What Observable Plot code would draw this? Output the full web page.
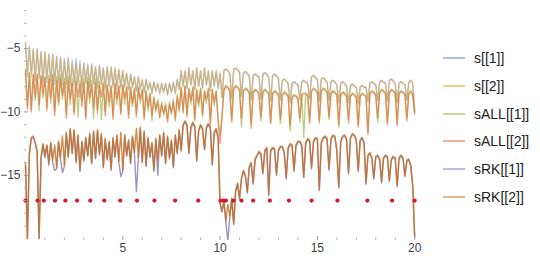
<!DOCTYPE html>
<html><head><meta charset="utf-8">
<script src="https://cdn.jsdelivr.net/npm/d3@7"></script>
<script src="https://cdn.jsdelivr.net/npm/@observablehq/plot@0.6"></script>
<style>
body{margin:0;background:#fff;font-family:"Liberation Sans",Arial,sans-serif;}
#wrap{position:relative;width:540px;height:260px;overflow:hidden;}
#plot{position:absolute;left:0;top:0;}
#legend{position:absolute;left:443px;top:0;width:97px;height:260px;}
.item{position:absolute;left:0;display:flex;align-items:center;white-space:nowrap;font-size:14px;color:#222;transform:translateY(-50%);}
.sw{width:22px;height:0;border-top:2px solid;margin-right:9px;}
</style></head><body>
<div id="wrap"><div id="plot"></div><div id="legend"></div></div>
<script>
// sampling step along x
const xStep = 0.1;

const s1 = [
-4.5,-7.2,-4.8,-7.0,-5.1,-7.5,-5.0,-7.4,-5.2,-7.6,
-5.3,-7.7,-5.4,-7.6,-5.5,-7.8,-5.6,-7.7,-5.7,-7.9,
-5.8,-7.8,-5.7,-8.0,-5.9,-7.7,-5.8,-7.9,-6.0,-8.0,
-6.1,-7.7,-6.2,-8.0,-6.2,-7.8,-6.4,-8.1,-6.3,-7.8,
-6.5,-8.1,-6.4,-8.0,-6.5,-7.9,-6.6,-8.2,-6.7,-8.0,
-6.8,-8.1,-7.0,-8.2,-7.0,-8.1,-7.3,-8.3,-7.2,-8.2,
-7.5,-8.4,-7.4,-8.3,-7.7,-8.5,-7.6,-8.4,-7.8,-8.5,
-7.7,-8.5,-7.8,-8.6,-7.7,-8.5,-7.7,-8.5,-7.4,-8.2,
-6.7,-8.0,-6.8,-8.1,-6.5,-7.9,-6.8,-8.2,-6.5,-8.0,
-6.8,-8.1,-6.5,-7.9,-6.8,-8.3,-6.7,-8.0,-6.8,-8.1,
-7.0,-8.9,-6.7,-6.6,-6.8,-7.0,-8.9,-6.6,-6.6,-6.7,
-6.9,-8.8,-6.9,-6.8,-7.0,-7.2,-9.0,-7.1,-7.0,-7.2,
-7.2,-9.0,-7.0,-6.9,-7.1,-7.3,-9.1,-7.1,-7.0,-7.2,
-7.4,-9.1,-7.5,-7.4,-7.6,-7.8,-9.2,-7.7,-7.6,-7.8,
-7.8,-9.0,-7.6,-7.5,-7.7,-7.7,-9.0,-7.2,-7.1,-7.3,
-7.5,-9.1,-7.4,-7.3,-7.5,-7.7,-9.1,-7.6,-7.5,-7.7,
-7.9,-9.2,-7.7,-7.6,-7.8,-8.0,-9.3,-7.9,-7.8,-8.0,
-8.0,-9.3,-8.0,-7.9,-8.1,-8.0,-9.2,-7.7,-7.6,-7.8,
-7.8,-9.1,-7.6,-7.5,-7.7,-7.7,-9.1,-7.5,-7.4,-7.6,
-7.8,-9.2,-7.7,-7.6,-7.8,-7.8,-9.1,-7.6,-7.5,-7.8,
-9.9];

const s2 = [
-4.6,-7.0,-4.9,-7.3,-5.0,-7.6,-5.1,-7.2,-5.3,-7.8,
-5.2,-7.4,-5.5,-7.9,-5.4,-7.5,-5.7,-8.0,-5.8,-7.6,
-6.0,-8.1,-5.9,-7.7,-6.2,-8.0,-6.1,-7.6,-6.3,-8.2,
-6.2,-7.8,-6.4,-8.1,-6.3,-7.7,-6.5,-8.2,-6.4,-7.9,
-6.6,-8.3,-6.5,-7.8,-6.4,-8.1,-6.5,-7.9,-6.6,-8.2,
-6.7,-7.9,-6.9,-8.3,-7.1,-8.0,-7.2,-8.4,-7.3,-8.1,
-7.4,-8.5,-7.5,-8.2,-7.6,-8.6,-7.7,-8.3,-7.7,-8.6,
-7.8,-8.4,-7.7,-8.7,-7.8,-8.4,-7.6,-8.6,-7.5,-8.3,
-6.8,-7.9,-6.7,-8.2,-6.6,-7.8,-6.7,-8.3,-6.6,-7.9,
-6.7,-8.2,-6.6,-7.8,-6.7,-8.4,-6.8,-7.9,-6.7,-8.2,
-6.9,-8.8,-6.8,-6.6,-6.7,-6.9,-9.0,-6.7,-6.5,-6.6,
-6.8,-8.7,-7.0,-6.8,-6.9,-7.1,-9.1,-7.2,-7.0,-7.1,
-7.3,-8.9,-7.1,-6.9,-7.0,-7.2,-9.2,-7.2,-7.0,-7.1,
-7.3,-9.0,-7.6,-7.4,-7.5,-7.7,-9.3,-7.8,-7.6,-7.7,
-7.9,-9.1,-7.7,-7.5,-7.6,-7.8,-8.9,-7.3,-7.1,-7.2,
-7.4,-9.2,-7.5,-7.3,-7.4,-7.6,-9.0,-7.7,-7.5,-7.6,
-7.8,-9.3,-7.8,-7.6,-7.7,-7.9,-9.2,-8.0,-7.8,-7.9,
-8.1,-9.4,-8.1,-7.9,-8.0,-8.1,-9.1,-7.8,-7.6,-7.7,
-7.9,-9.0,-7.7,-7.5,-7.6,-7.8,-9.2,-7.6,-7.4,-7.5,
-7.7,-9.3,-7.8,-7.6,-7.7,-7.9,-9.0,-7.7,-7.5,-7.7,
-10.0];

const sALL1 = [
-6.8,-9.5,-7.0,-9.8,-7.0,-9.1,-7.2,-9.9,-7.1,-8.9,
-7.2,-9.6,-7.1,-9.3,-7.0,-10.0,-7.2,-9.5,-7.1,-9.0,
-7.3,-10.2,-7.2,-9.4,-7.4,-10.0,-7.3,-10.4,-7.5,-9.2,
-7.4,-10.6,-7.3,-9.3,-7.5,-10.5,-7.4,-9.8,-7.6,-10.6,
-7.7,-10.0,-7.8,-9.6,-7.9,-10.3,-7.7,-9.4,-7.9,-10.0,
-7.8,-9.4,-8.0,-10.2,-8.1,-9.6,-8.1,-10.1,-8.0,-9.3,
-8.2,-10.4,-8.3,-9.9,-8.5,-10.7,-8.8,-10.0,-9.0,-10.5,
-9.2,-10.3,-9.3,-10.6,-9.2,-10.2,-9.0,-10.7,-8.6,-10.0,
-8.0,-10.1,-7.9,-10.2,-8.1,-9.4,-8.0,-10.5,-8.2,-9.6,
-8.1,-10.4,-8.3,-9.3,-8.1,-10.8,-8.2,-9.5,-8.3,-10.6,
-11.8,-10.5,-8.2,-7.9,-8.0,-8.3,-10.6,-8.1,-7.9,-8.0,
-8.2,-11.2,-8.3,-8.1,-8.2,-8.4,-11.3,-8.4,-8.2,-8.3,
-8.5,-10.7,-8.4,-8.2,-8.3,-8.5,-10.8,-8.5,-8.3,-8.4,
-8.6,-10.9,-8.6,-8.4,-8.5,-8.7,-11.5,-8.8,-8.6,-8.7,
-8.9,-10.8,-8.6,-12.0,-8.5,-8.6,-10.7,-8.3,-8.1,-8.2,
-8.4,-10.9,-8.3,-8.1,-8.2,-8.4,-10.6,-8.5,-8.3,-8.4,
-8.6,-11.2,-8.6,-8.4,-8.5,-8.7,-10.9,-8.7,-8.5,-8.6,
-8.8,-11.0,-8.7,-8.5,-8.6,-8.7,-11.6,-8.5,-8.3,-8.4,
-8.6,-10.8,-8.4,-8.2,-8.3,-8.5,-10.8,-8.4,-8.2,-8.3,
-8.5,-10.9,-8.5,-8.3,-8.4,-8.6,-10.5,-8.5,-8.3,-8.6,
-10.0];

const sALL2 = [
-6.6,-9.8,-6.9,-10.0,-7.1,-8.8,-7.0,-9.4,-7.2,-8.6,
-7.3,-9.9,-7.4,-8.9,-7.2,-10.3,-7.5,-9.2,-7.4,-8.7,
-7.6,-10.5,-7.5,-9.0,-7.7,-10.2,-7.6,-8.8,-7.8,-9.6,
-7.7,-10.4,-7.6,-8.9,-7.8,-9.7,-7.7,-10.1,-7.9,-8.8,
-7.8,-10.3,-7.9,-9.2,-8.0,-10.6,-7.8,-9.0,-8.0,-10.2,
-7.9,-8.9,-8.1,-10.5,-8.0,-9.3,-8.2,-10.4,-8.1,-9.0,
-8.3,-10.6,-8.4,-9.6,-8.6,-10.3,-8.9,-9.8,-9.2,-10.4,
-9.4,-10.1,-9.5,-10.8,-9.4,-10.0,-9.2,-10.5,-8.8,-9.8,
-8.1,-9.9,-8.0,-10.4,-8.2,-9.1,-8.1,-10.7,-8.3,-9.3,
-8.2,-10.2,-8.4,-9.0,-8.2,-11.0,-8.3,-9.2,-8.4,-10.8,
-12.5,-10.2,-8.3,-8.0,-8.1,-8.4,-10.8,-8.2,-8.0,-8.1,
-8.3,-10.5,-8.4,-8.2,-8.3,-8.5,-11.0,-8.5,-8.3,-8.4,
-8.6,-10.4,-8.5,-8.3,-8.4,-8.6,-10.9,-8.6,-8.4,-8.5,
-8.7,-10.6,-8.7,-8.5,-8.6,-8.8,-11.1,-8.9,-8.7,-8.8,
-9.0,-10.5,-8.7,-8.5,-8.6,-8.7,-10.9,-8.4,-8.2,-8.3,
-8.5,-10.7,-8.4,-8.2,-8.3,-8.5,-10.4,-8.6,-8.4,-8.5,
-8.7,-11.0,-8.7,-8.5,-8.6,-8.8,-10.6,-8.8,-8.6,-8.7,
-8.9,-11.2,-8.8,-8.6,-8.7,-8.8,-11.8,-8.6,-8.4,-8.5,
-8.7,-10.5,-8.5,-8.3,-8.4,-8.6,-11.0,-8.5,-8.3,-8.4,
-8.6,-11.1,-8.6,-8.4,-8.5,-8.7,-10.7,-8.6,-8.4,-8.7,
-10.2];

const sRK1 = [
-14.2,-20.0,-13.4,-12.1,-12.0,-12.5,-13.2,-20.0,-13.7,-12.6,
-13.6,-12.7,-14.2,-12.5,-14.0,-14.6,-14.5,-12.4,-13.7,-14.8,
-14.3,-11.7,-13.6,-11.4,-13.3,-11.5,-14.0,-11.9,-14.7,-12.4,
-13.9,-12.1,-13.5,-11.8,-14.1,-11.6,-13.7,-11.5,-13.4,-11.8,
-14.4,-12.2,-13.8,-12.4,-14.6,-12.1,-13.6,-11.9,-14.0,-15.1,
-14.7,-11.9,-13.5,-12.3,-14.1,-12.0,-13.3,-16.3,-13.7,-11.3,
-14.0,-11.6,-14.3,-12.1,-13.6,-12.5,-14.7,-12.2,-15.0,-11.9,
-13.5,-11.7,-14.1,-12.0,-13.7,-12.3,-14.4,-11.9,-13.3,-11.5,
-13.1,-11.1,-10.8,-11.1,-13.3,-11.3,-10.9,-11.2,-13.9,-11.5,
-11.1,-11.4,-13.0,-11.3,-11.0,-11.3,-14.2,-11.7,-11.4,-12.1,
-17.3,-17.9,-17.1,-18.7,-20.2,-18.3,-16.9,-18.9,-16.3,-15.7,
-16.9,-15.3,-14.7,-15.1,-16.4,-14.4,-14.1,-15.7,-13.8,-13.5,
-13.2,-13.4,-14.9,-13.1,-12.9,-16.6,-13.1,-12.9,-13.0,-15.0,
-13.1,-12.8,-12.8,-13.3,-15.3,-12.9,-12.6,-12.7,-14.7,-12.7,
-12.4,-12.4,-12.7,-15.2,-12.5,-12.2,-12.3,-14.5,-12.4,-12.1,
-12.2,-16.2,-12.5,-12.1,-12.0,-12.2,-14.6,-12.2,-11.9,-12.0,
-13.1,-16.0,-12.4,-12.0,-11.9,-12.2,-14.9,-12.1,-11.8,-11.9,
-12.3,-14.7,-12.3,-12.1,-12.5,-15.7,-13.5,-13.3,-13.7,-15.3,
-13.6,-13.5,-13.8,-15.6,-13.7,-13.5,-13.6,-15.5,-13.8,-13.6,
-13.7,-15.9,-13.7,-13.5,-13.7,-15.1,-13.9,-13.8,-14.3,-15.9,
-19.9];

const sRK2 = [
-14.0,-20.0,-13.2,-12.0,-11.9,-12.4,-13.0,-20.0,-13.6,-12.5,
-13.4,-12.6,-14.0,-12.4,-13.8,-12.6,-14.4,-12.3,-13.6,-11.9,
-14.2,-11.6,-13.5,-11.3,-13.2,-11.4,-13.9,-11.8,-14.6,-12.3,
-13.8,-12.0,-13.4,-11.7,-14.0,-11.5,-13.6,-11.4,-13.3,-11.7,
-14.3,-12.1,-13.7,-12.3,-14.5,-12.0,-13.5,-11.8,-13.9,-11.6,
-14.6,-11.8,-13.4,-12.2,-14.0,-11.9,-13.2,-11.3,-13.6,-11.2,
-13.9,-11.5,-14.2,-12.0,-13.5,-12.4,-14.6,-12.1,-13.8,-11.8,
-13.4,-11.6,-14.0,-11.9,-13.6,-12.2,-14.3,-11.8,-13.2,-11.4,
-13.0,-11.0,-10.7,-11.0,-13.2,-11.2,-10.8,-11.1,-13.8,-11.4,
-11.0,-11.3,-12.9,-11.2,-10.9,-11.2,-14.1,-11.6,-11.3,-12.0,
-17.2,-17.8,-17.0,-18.6,-17.3,-18.2,-16.8,-18.8,-16.2,-15.6,
-16.8,-15.2,-14.6,-15.0,-16.3,-14.3,-14.0,-15.6,-13.7,-13.4,
-13.1,-13.3,-14.8,-13.0,-12.8,-16.5,-13.0,-12.8,-12.9,-14.9,
-13.0,-12.7,-12.7,-13.2,-15.2,-12.8,-12.5,-12.6,-14.6,-12.6,
-12.3,-12.3,-12.6,-15.1,-12.4,-12.1,-12.2,-14.4,-12.3,-12.0,
-12.1,-16.1,-12.4,-12.0,-11.9,-12.1,-14.5,-12.1,-11.8,-11.9,
-13.0,-15.9,-12.3,-11.9,-11.8,-12.1,-14.8,-12.0,-11.7,-11.8,
-12.2,-14.6,-12.2,-12.0,-12.4,-15.6,-13.4,-13.2,-13.6,-15.2,
-13.5,-13.4,-13.7,-15.5,-13.6,-13.4,-13.5,-15.4,-13.7,-13.5,
-13.6,-15.8,-13.6,-13.4,-13.6,-15.0,-13.8,-13.7,-14.2,-15.8,
-19.8];

const dotX = [0, 0.62, 0.94, 1.52, 2.05, 2.65, 3.33, 4.05, 4.87, 5.73, 6.63, 7.69, 8.88,
  10.02, 10.17, 10.3, 10.68, 11.1, 11.7, 12.56, 13.54, 14.7, 16.03, 17.57, 18.84, 20];
const dotY = -17;

const names = ["s[[1]]", "s[[2]]", "sALL[[1]]", "sALL[[2]]", "sRK[[1]]", "sRK[[2]]"];
const colors = ["#5E81B5", "#E19C24", "#8FB032", "#EB6235", "#8778B3", "#C56E1A"];
const opac = [0.45, 0.45, 0.6, 0.6, 0.8, 0.8];

const xMajor = [5, 10, 15, 20];
const xMinor = [1,2,3,4,6,7,8,9,11,12,13,14,16,17,18,19];
const yMajor = [-5, -10, -15];
const yMinor = [-2,-3,-4,-6,-7,-8,-9,-11,-12,-13,-14,-16,-17,-18,-19];

const seriesList = [s1, s2, sALL1, sALL2, sRK1, sRK2];
const tables = seriesList.map(arr => arr.map((v, i) => ({x: i * xStep, y: v})));

const W = 430, H = 260, ML = 24, MR = 10, MT = 0, MB = 20;
const innerW = W - ML - MR, innerH = H - MT - MB;

const plot = Plot.plot({
  width: W, height: H,
  marginLeft: ML, marginRight: MR, marginTop: MT, marginBottom: MB,
  style: {fontFamily: "'Liberation Sans', Arial, sans-serif", fontSize: "12px", background: "white", color: "#444"},
  x: {domain: [-0.05, 20.3]},
  y: {domain: [-20.15, -1.2]},
  marks: [
    ...tables.map((t, k) => Plot.line(t, {x: "x", y: "y", stroke: colors[k], strokeOpacity: opac[k], strokeWidth: 1.4, clip: true})),
    Plot.dot(dotX, {x: d => d, y: () => dotY, r: 2.1, fill: "#D11A2E", stroke: "none"}),
    Plot.axisX({ticks: xMajor, tickSize: 0, tickPadding: 3, line: true, stroke: "#9a9a9a", fill: "#444", label: null}),
    Plot.axisY({ticks: yMajor, tickSize: 0, tickPadding: 4, line: true, stroke: "#9a9a9a", fill: "#444", label: null}),
    Plot.ruleX(xMajor, {stroke: "#9a9a9a", insetTop: innerH - 4}),
    Plot.ruleX(xMinor, {stroke: "#b0b0b0", insetTop: innerH - 2.5}),
    Plot.ruleY(yMajor, {stroke: "#9a9a9a", insetRight: innerW - 4}),
    Plot.ruleY(yMinor, {stroke: "#b0b0b0", insetRight: innerW - 2.5})
  ]
});
document.getElementById("plot").appendChild(plot);

const legend = document.getElementById("legend");
names.forEach((n, k) => {
  const it = document.createElement("div");
  it.className = "item";
  it.style.top = (58 + k * 27.8) + "px";
  const sw = document.createElement("span");
  sw.className = "sw";
  sw.style.borderTopColor = colors[k];
  sw.style.opacity = 0.5;
  const tx = document.createElement("span");
  tx.textContent = n;
  it.appendChild(sw); it.appendChild(tx);
  legend.appendChild(it);
});
</script>
</body></html>
